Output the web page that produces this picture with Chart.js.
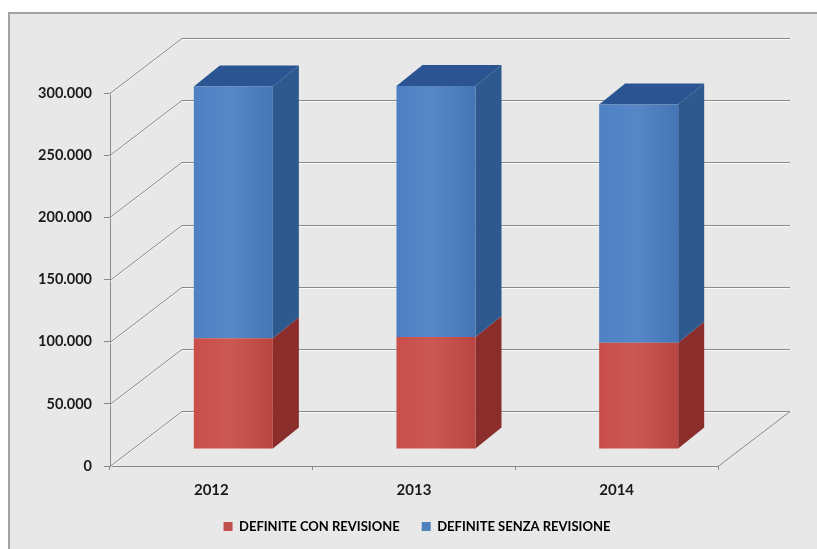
<!DOCTYPE html>
<html>
<head>
<meta charset="utf-8">
<script src="https://cdn.jsdelivr.net/npm/chart.js@4"></script>
<style>
  html, body { margin: 0; padding: 0; background: #ffffff; }
  #wrap { width: 817px; height: 549px; }
</style>
</head>
<body>
<div id="wrap"><canvas id="chart" width="817" height="549"></canvas></div>
<script>
// Pratiche definite per anno, con e senza revisione
const years = ['2012', '2013', '2014'];
const conRevisione = [89000, 90000, 85500];
const senzaRevisione = [202500, 202000, 191500];
const seriesNames = ['DEFINITE CON REVISIONE', 'DEFINITE SENZA REVISIONE'];
const yTicks = [0, 50000, 100000, 150000, 200000, 250000, 300000];

// 3D look: offsets of the back wall and of the bar blocks
const WALL = { dx: 72, dy: -55 };
const BAR_SHIFT = { dx: 22, dy: -17 };
const BAR_DEPTH = { dx: 26, dy: -21 };

const frontColors = ['#c84b47', '#4a7ec3'];
const legendColors = ['#c0504d', '#4f81bd'];
const sideColors = ['#8b2d2b', '#2d598e'];
const topColor = '#2b5592';

const fmt = v => String(v).replace(/\B(?=(\d{3})+(?!\d))/g, '.');

function poly(ctx, pts, fill) {
  ctx.beginPath();
  ctx.moveTo(pts[0][0], pts[0][1]);
  for (let i = 1; i < pts.length; i++) ctx.lineTo(pts[i][0], pts[i][1]);
  ctx.closePath();
  ctx.fillStyle = fill;
  ctx.fill();
}

function barBox(bar) {
  const p = bar.getProps(['x', 'y', 'base', 'width'], true);
  return {
    l: p.x - p.width / 2, r: p.x + p.width / 2,
    t: Math.min(p.y, p.base), b: Math.max(p.y, p.base)
  };
}

const frame3d = {
  id: 'frame3d',
  beforeDraw(chart) {
    const ctx = chart.ctx;
    ctx.save();
    ctx.fillStyle = '#ffffff';
    ctx.fillRect(0, 0, chart.width, chart.height);
    ctx.fillStyle = '#e8e8e8';
    ctx.fillRect(8, 12, chart.width - 8, chart.height - 12);
    ctx.strokeStyle = '#a3a3a3';
    ctx.lineWidth = 2;
    ctx.strokeRect(9, 13, chart.width + 10, chart.height + 10);
    ctx.restore();
  },
  beforeDatasetsDraw(chart) {
    const { ctx, chartArea: a, scales } = chart;
    const y = scales.y;
    // back wall and side wall gridlines, with a soft light edge below
    ctx.save();
    ctx.lineWidth = 1;
    [['rgba(255,255,255,0.75)', 1], ['#8a8a8a', 0]].forEach(([col, off]) => {
      ctx.strokeStyle = col;
      yTicks.forEach(v => {
        const py = Math.round(y.getPixelForValue(v)) + 0.5 + off;
        ctx.beginPath();
        ctx.moveTo(a.left, py);
        ctx.lineTo(a.left + WALL.dx, py + WALL.dy);
        ctx.lineTo(a.right + WALL.dx, py + WALL.dy);
        ctx.stroke();
      });
    });
    // right edge of the floor
    ctx.strokeStyle = '#8a8a8a';
    ctx.beginPath();
    ctx.moveTo(a.right, a.bottom + 0.5);
    ctx.lineTo(a.right + WALL.dx, a.bottom + 0.5 + WALL.dy);
    ctx.stroke();
    ctx.restore();

    // side and top faces of the blocks
    ctx.save();
    ctx.translate(BAR_SHIFT.dx, BAR_SHIFT.dy);
    const metas = chart.getSortedVisibleDatasetMetas();
    metas.forEach((meta, mi) => {
      meta.data.forEach(bar => {
        const { l, r, t, b } = barBox(bar);
        poly(ctx, [[r, t], [r + BAR_DEPTH.dx, t + BAR_DEPTH.dy], [r + BAR_DEPTH.dx, b + BAR_DEPTH.dy], [r, b]], sideColors[mi]);
        if (mi === metas.length - 1) {
          poly(ctx, [[l, t], [l + BAR_DEPTH.dx, t + BAR_DEPTH.dy], [r + BAR_DEPTH.dx, t + BAR_DEPTH.dy], [r, t]], topColor);
        }
      });
    });
    ctx.restore();
    // front faces are drawn by Chart.js in the shifted plane
    ctx.save();
    ctx.translate(BAR_SHIFT.dx, BAR_SHIFT.dy);
  },
  afterDatasetsDraw(chart) {
    const ctx = chart.ctx;
    // light shading across each front face
    chart.getSortedVisibleDatasetMetas().forEach(meta => {
      meta.data.forEach(bar => {
        const { l, r, t, b } = barBox(bar);
        const g = ctx.createLinearGradient(l, 0, r, 0);
        g.addColorStop(0, 'rgba(255,255,255,0.02)');
        g.addColorStop(0.45, 'rgba(255,255,255,0.07)');
        g.addColorStop(1, 'rgba(0,0,0,0.07)');
        ctx.fillStyle = g;
        ctx.fillRect(l, t, r - l, b - t);
      });
    });
    ctx.restore();
  }
};

new Chart(document.getElementById('chart'), {
  type: 'bar',
  data: {
    labels: years,
    datasets: [
      { label: seriesNames[0], data: conRevisione, backgroundColor: frontColors[0], borderWidth: 0 },
      { label: seriesNames[1], data: senzaRevisione, backgroundColor: frontColors[1], borderWidth: 0 }
    ]
  },
  options: {
    responsive: false,
    animation: false,
    devicePixelRatio: 1,
    layout: { padding: { top: 93, left: 17, right: 0, bottom: 6 } },
    datasets: { bar: { categoryPercentage: 1, barPercentage: 0.39 } },
    scales: {
      x: {
        stacked: true,
        afterFit(s) { s.height = 32; },
        grid: { display: true, drawOnChartArea: false, drawTicks: true, tickLength: 4, color: '#8a8a8a' },
        border: { display: true, color: '#8a8a8a' },
        ticks: { padding: 11, color: '#1a1a1a', font: { family: 'Lato', weight: 'bold', size: 15 } }
      },
      y: {
        stacked: true,
        min: 0,
        max: 300000,
        afterFit(s) { s.width = 93; },
        afterBuildTicks(s) { s.ticks = yTicks.map(v => ({ value: v })); },
        grid: { display: true, drawOnChartArea: false, drawTicks: true, tickLength: 6, color: '#8a8a8a' },
        border: { display: true, color: '#8a8a8a' },
        ticks: { padding: 12, color: '#1a1a1a', font: { family: 'Lato', weight: 'bold', size: 14.5 }, callback: v => fmt(v) }
      },
      yR: {
        position: 'right',
        display: true,
        afterFit(s) { s.width = 99; },
        grid: { display: false },
        border: { display: false },
        ticks: { display: false }
      }
    },
    plugins: {
      legend: {
        position: 'bottom',
        labels: {
          padding: 22,
          boxWidth: 9,
          boxHeight: 9,
          color: '#1a1a1a',
          font: { family: 'Lato', weight: 'bold', size: 13 },
          generateLabels(chart) {
            return chart.data.datasets.map((ds, i) => ({
              text: ds.label, fillStyle: legendColors[i], strokeStyle: legendColors[i],
              lineWidth: 0, hidden: false, datasetIndex: i
            }));
          }
        }
      },
      tooltip: { enabled: false }
    }
  },
  plugins: [frame3d]
});
</script>
</body>
</html>
